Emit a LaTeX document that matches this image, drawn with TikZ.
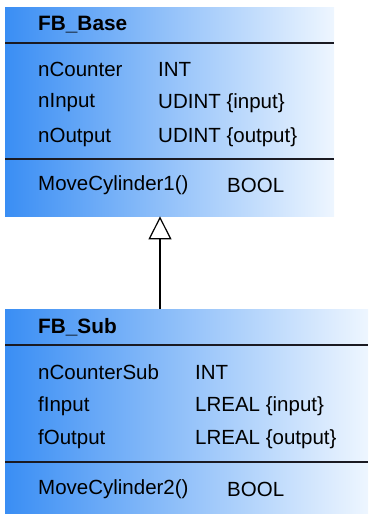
\documentclass[tikz,border=0pt]{standalone}
\usepackage{fontspec}
\setmainfont{Liberation Sans}
\usetikzlibrary{positioning,arrows.meta}

\definecolor{fbdark}{HTML}{3A8EF4}
\definecolor{fbmid}{HTML}{96C6FF}
\definecolor{fblight}{HTML}{EEF6FF}
\definecolor{fbline}{HTML}{1A1A22}

\begin{document}
\begin{tikzpicture}[
    x=1pt, y=-1pt,
    classbox/.style={
        rectangle,
        anchor=north west,
        inner sep=0pt,
        left color=fbdark,
        middle color=fbmid,
        right color=fblight
    },
    member/.style={
        anchor=west,
        inner sep=0pt,
        font=\fontsize{20.5}{23}\selectfont
    },
    classname/.style={member, font=\fontsize{20.8}{23}\selectfont\bfseries},
    divider/.style={line width=2pt, fbline},
    inherit/.style={-{Triangle[open,length=23pt,width=23pt]}, line width=1.2pt, black}
]
\useasboundingbox (0,0) rectangle (368,515);

% base function block
\node[classbox, minimum width=329pt, minimum height=209pt] (base) at (5,7) {};
\node[classname] (basename) at (38,25) {FB\_Base};
\node[member] (bcounter) at (38,69) {nCounter};
\node[member] (binput) at (38,103) {nInput};
\node[member] (boutput) at (38,137) {nOutput};
\node[member] (bcountertype) at (158,69) {INT};
\node[member] (binputtype) at (158,103) {UDINT \{input\}};
\node[member] (boutputtype) at (158,137) {UDINT \{output\}};
\node[member] (bmethod) at (38,185) {MoveCylinder1()};
\node[member] (bmethodtype) at (227,185) {BOOL};
\draw[divider] ([yshift=-36pt]base.north west) -- ([yshift=-36pt]base.north east);
\draw[divider] ([yshift=-152pt]base.north west) -- ([yshift=-152pt]base.north east);

% derived function block
\node[classbox, minimum width=363pt, minimum height=204pt] (sub) at (5,309) {};
\node[classname] (subname) at (38,327) {FB\_Sub};
\node[member] (scounter) at (38,372) {nCounterSub};
\node[member] (sinput) at (38,406) {fInput};
\node[member] (soutput) at (38,439) {fOutput};
\node[member] (scountertype) at (195,372) {INT};
\node[member] (sinputtype) at (195,406) {LREAL \{input\}};
\node[member] (soutputtype) at (195,439) {LREAL \{output\}};
\node[member] (smethod) at (38,489) {MoveCylinder2()};
\node[member] (smethodtype) at (227,489) {BOOL};
\draw[divider] ([yshift=-36pt]sub.north west) -- ([yshift=-36pt]sub.north east);
\draw[divider] ([yshift=-153pt]sub.north west) -- ([yshift=-153pt]sub.north east);

\draw[inherit] ([xshift=155pt]sub.north west) -- ([xshift=155pt]base.south west);
\end{tikzpicture}
\end{document}
